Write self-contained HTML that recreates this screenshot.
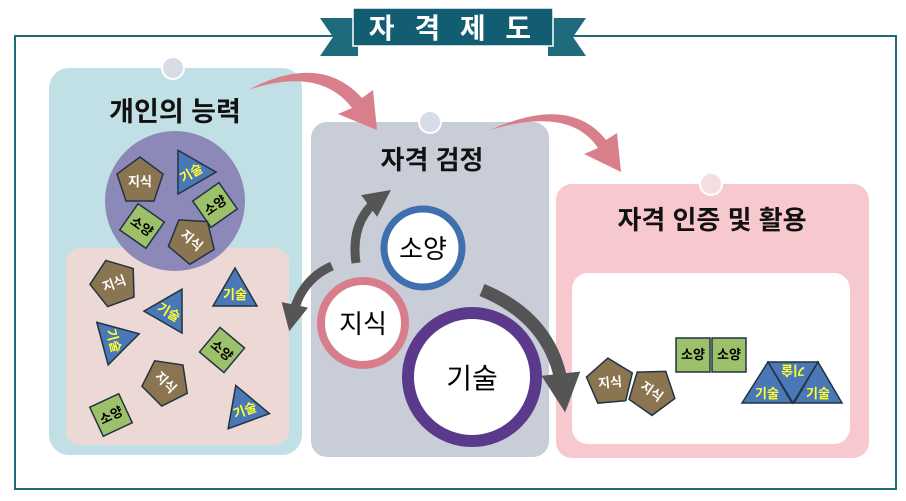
<!DOCTYPE html>
<html><head><meta charset="utf-8"><style>
html,body{margin:0;padding:0;background:#fff}
svg{display:block}
text{font-family:"Liberation Sans","Noto Sans CJK KR",sans-serif}
</style></head><body>
<svg width="906" height="501" viewBox="0 0 906 501" xmlns="http://www.w3.org/2000/svg">
<defs>
<marker id="ah" viewBox="0 0 10 10" refX="5" refY="5" markerWidth="3" markerHeight="3" orient="auto"><path d="M0,0 L10,5 L0,10 z" fill="#555"/></marker>
</defs>
<rect x="15" y="36" width="881" height="453" fill="#fff" stroke="#1e6b7b" stroke-width="2"/>
<polygon points="320,18 358,18 358,56 320,56 333,37" fill="#1e6b7b"/>
<polygon points="586,18 548,18 548,56 586,56 573,37" fill="#1e6b7b"/>
<rect x="353" y="8" width="200" height="38" fill="#135d73" stroke="#fff" stroke-width="1.5"/>
<text x="453" y="38" font-size="28" font-weight="bold" fill="#fff" text-anchor="middle" letter-spacing="6">자 격 제 도</text>

<rect x="49" y="68" width="253" height="387" rx="20" fill="#c0e0e6"/>
<circle cx="173" cy="68" r="11" fill="#d6dde6" stroke="#fff" stroke-width="2"/>
<text x="175" y="121" font-size="27" font-weight="bold" text-anchor="middle" fill="#111">개인의 능력</text>
<rect x="66" y="248" width="223" height="197" rx="14" fill="#ecd9d5"/>
<circle cx="175" cy="201" r="70" fill="#8c88b8"/>

<rect x="311" y="122" width="238" height="335" rx="16" fill="#c9cdd8"/>
<circle cx="430" cy="122" r="11" fill="#d6dde6" stroke="#fff" stroke-width="2"/>
<text x="432" y="169" font-size="26" font-weight="bold" text-anchor="middle" fill="#111">자격 검정</text>

<rect x="556" y="184" width="313" height="274" rx="16" fill="#f7c8cd"/>
<circle cx="711" cy="184" r="11" fill="#f3dfe2" stroke="#fff" stroke-width="2"/>
<text x="712" y="229" font-size="26" font-weight="bold" text-anchor="middle" fill="#111">자격 인증 및 활용</text>
<rect x="572" y="273" width="278" height="171" rx="16" fill="#fff"/>

<path d="M248,90 Q320,66 352,108 L338,114 L377,130 L373,90 L362,98 Q320,52 248,90 z" fill="#d97f8c"/>
<path d="M490,130 Q570,106 598,148 L584,154 L621,172 L617,133 L606,140 Q570,94 490,130 z" fill="#d97f8c"/>

<path d="M356,263 Q350,220 380,198" fill="none" stroke="#555" stroke-width="9" marker-end="url(#ah)"/>
<path d="M332,266 Q300,280 292,318" fill="none" stroke="#555" stroke-width="9" marker-end="url(#ah)"/>
<path d="M482,290 Q555,320 563,393" fill="none" stroke="#555" stroke-width="13" marker-end="url(#ah)"/>

<circle cx="423" cy="248" r="39" fill="#fff" stroke="#3f6fae" stroke-width="7"/>
<text x="423" y="258" font-size="26" text-anchor="middle">소양</text>
<circle cx="363" cy="323" r="42" fill="#fff" stroke="#d77d8c" stroke-width="8"/>
<text x="363" y="333" font-size="26" text-anchor="middle">지식</text>
<circle cx="472" cy="377" r="64" fill="#fff" stroke="#5b3a8b" stroke-width="12"/>
<text x="472" y="388" font-size="28" text-anchor="middle">기술</text>

<g font-size="13" font-weight="bold">
 <g transform="translate(140,181)"><polygon points="0,-24 23,-7 14,20 -14,20 -23,-7" fill="#8b7550" stroke="#234" stroke-width="1.5"/><text y="5" text-anchor="middle" fill="#fff">지식</text></g>
 <g transform="translate(190,171) rotate(-30)"><polygon points="0,-24 22,14 -22,14" fill="#4a77b6" stroke="#234" stroke-width="1.5"/><text y="7" text-anchor="middle" fill="#ff3">기술</text></g>
 <g transform="translate(215,205) rotate(-35)"><rect x="-16" y="-16" width="32" height="32" fill="#9cc16a" stroke="#234" stroke-width="1.5"/><text y="5" text-anchor="middle">소양</text></g>
 <g transform="translate(142,226) rotate(35)"><rect x="-16" y="-16" width="32" height="32" fill="#9cc16a" stroke="#234" stroke-width="1.5"/><text y="5" text-anchor="middle">소양</text></g>
 <g transform="translate(192,240) rotate(40)"><polygon points="0,-24 23,-7 14,20 -14,20 -23,-7" fill="#8b7550" stroke="#234" stroke-width="1.5"/><text y="5" text-anchor="middle" fill="#fff">지식</text></g>

 <g transform="translate(114,283) rotate(-20)"><polygon points="0,-24 23,-7 14,20 -14,20 -23,-7" fill="#8b7550" stroke="#234" stroke-width="1.5"/><text y="5" text-anchor="middle" fill="#fff">지식</text></g>
 <g transform="translate(170,310) rotate(30)"><polygon points="0,-24 22,14 -22,14" fill="#4a77b6" stroke="#234" stroke-width="1.5"/><text y="7" text-anchor="middle" fill="#ff3">기술</text></g>
 <g transform="translate(235,292)"><polygon points="0,-24 22,14 -22,14" fill="#4a77b6" stroke="#234" stroke-width="1.5"/><text y="7" text-anchor="middle" fill="#ff3">기술</text></g>
 <g transform="translate(116,340) rotate(75)"><polygon points="0,-24 22,14 -22,14" fill="#4a77b6" stroke="#234" stroke-width="1.5"/><text y="7" text-anchor="middle" fill="#ff3">기술</text></g>
 <g transform="translate(222,350) rotate(40)"><rect x="-16" y="-16" width="32" height="32" fill="#9cc16a" stroke="#234" stroke-width="1.5"/><text y="5" text-anchor="middle">소양</text></g>
 <g transform="translate(166,382) rotate(45)"><polygon points="0,-24 23,-7 14,20 -14,20 -23,-7" fill="#8b7550" stroke="#234" stroke-width="1.5"/><text y="5" text-anchor="middle" fill="#fff">지식</text></g>
 <g transform="translate(111,415) rotate(-25)"><rect x="-16" y="-16" width="32" height="32" fill="#9cc16a" stroke="#234" stroke-width="1.5"/><text y="5" text-anchor="middle">소양</text></g>
 <g transform="translate(244,408) rotate(-20)"><polygon points="0,-24 22,14 -22,14" fill="#4a77b6" stroke="#234" stroke-width="1.5"/><text y="7" text-anchor="middle" fill="#ff3">기술</text></g>

 <g transform="translate(610,382) rotate(-5)"><polygon points="0,-24 23,-7 14,20 -14,20 -23,-7" fill="#8b7550" stroke="#234" stroke-width="1.5"/><text y="5" text-anchor="middle" fill="#fff">지식</text></g>
 <g transform="translate(652,391) rotate(35)"><polygon points="0,-24 23,-7 14,20 -14,20 -23,-7" fill="#8b7550" stroke="#234" stroke-width="1.5"/><text y="5" text-anchor="middle" fill="#fff">지식</text></g>
 <rect x="676" y="338" width="34" height="34" fill="#9cc16a" stroke="#234" stroke-width="1.5"/><text x="693" y="359" text-anchor="middle" font-size="13">소양</text>
 <rect x="712" y="338" width="34" height="34" fill="#9cc16a" stroke="#234" stroke-width="1.5"/><text x="729" y="359" text-anchor="middle" font-size="13">소양</text>
 <polygon points="742,403 768,362 792,403" fill="#4a77b6" stroke="#234" stroke-width="1.5"/><text x="767" y="398" text-anchor="middle" font-size="13" fill="#ff3">기술</text>
 <polygon points="768,362 818,362 793,403" fill="#4a77b6" stroke="#234" stroke-width="1.5"/><text x="793" y="374" text-anchor="middle" font-size="13" fill="#ff3" transform="rotate(180 793 370)">기술</text>
 <polygon points="794,403 818,362 842,403" fill="#4a77b6" stroke="#234" stroke-width="1.5"/><text x="818" y="398" text-anchor="middle" font-size="13" fill="#ff3">기술</text>
</g>
</svg>
</body></html>
